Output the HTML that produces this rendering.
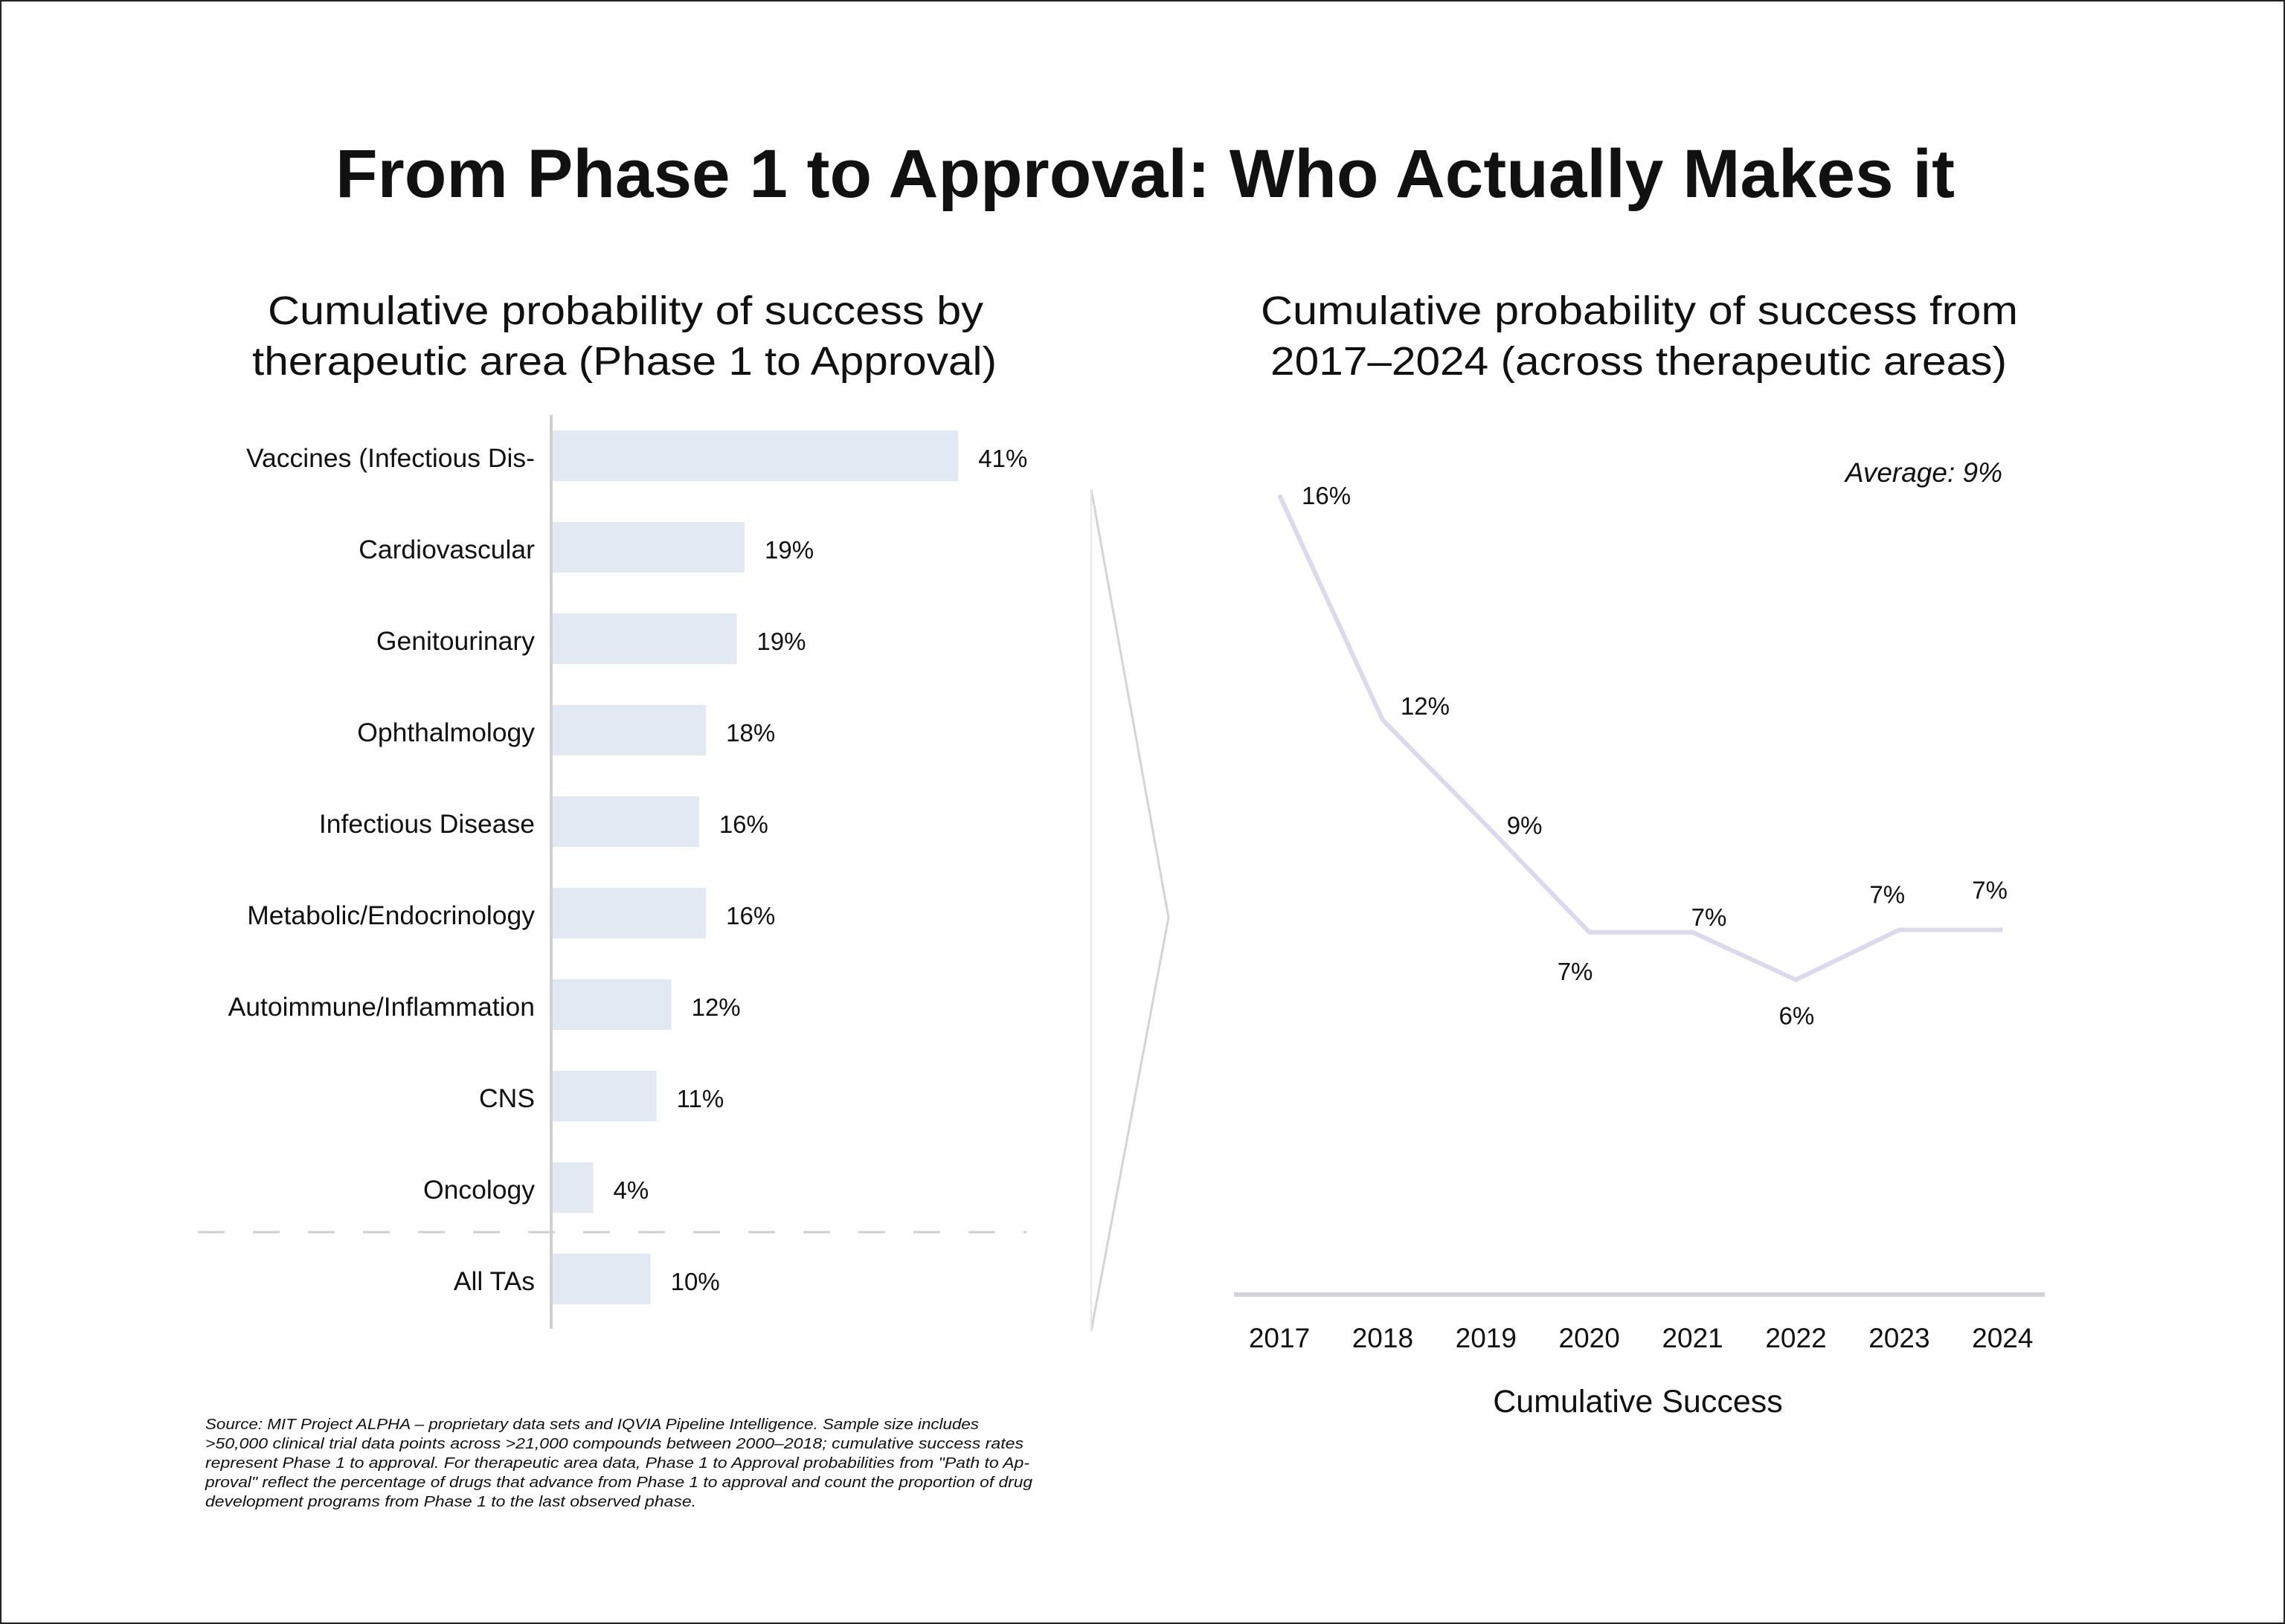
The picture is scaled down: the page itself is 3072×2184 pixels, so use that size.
<!DOCTYPE html>
<html><head><meta charset="utf-8"><style>
html,body{margin:0;padding:0;background:#fff}
svg{display:block}
text{font-family:"Liberation Sans",sans-serif;fill:#111}
</style></head><body>
<svg id="c" width="3072" height="2184" viewBox="0 0 3072 2184" xmlns="http://www.w3.org/2000/svg">
<rect x="1" y="1" width="3070" height="2182" fill="#fff" stroke="#222" stroke-width="2"/>
<text x="451" y="265" font-size="92" font-weight="bold" textLength="2177" lengthAdjust="spacingAndGlyphs">From Phase 1 to Approval: Who Actually Makes it</text>
<g font-size="54">
<text x="360" y="436" textLength="962" lengthAdjust="spacingAndGlyphs">Cumulative probability of success by</text>
<text x="339" y="504" textLength="1001" lengthAdjust="spacingAndGlyphs">therapeutic area (Phase 1 to Approval)</text>
</g>
<g font-size="54">
<text x="1695" y="436" textLength="1018" lengthAdjust="spacingAndGlyphs">Cumulative probability of success from</text>
<text x="1708" y="504" textLength="990" lengthAdjust="spacingAndGlyphs">2017–2024 (across therapeutic areas)</text>
</g>
<g id="bars"></g>
<g id="line"></g>
<polyline points="1467,658 1571,1234 1467,1790" fill="none" stroke="#d4d4d4" stroke-width="3"/>
<line x1="1467" y1="658" x2="1467" y2="1790" stroke="#e6e6e6" stroke-width="2"/>
<g font-size="20" font-style="italic" fill="#222">
<text x="276" y="1922" textLength="1040" lengthAdjust="spacingAndGlyphs">Source: MIT Project ALPHA – proprietary data sets and IQVIA Pipeline Intelligence. Sample size includes</text>
<text x="276" y="1948" textLength="1100" lengthAdjust="spacingAndGlyphs">&gt;50,000 clinical trial data points across &gt;21,000 compounds between 2000–2018; cumulative success rates</text>
<text x="276" y="1974" textLength="1108" lengthAdjust="spacingAndGlyphs">represent Phase 1 to approval. For therapeutic area data, Phase 1 to Approval probabilities from "Path to Ap-</text>
<text x="276" y="2000" textLength="1112" lengthAdjust="spacingAndGlyphs">proval" reflect the percentage of drugs that advance from Phase 1 to approval and count the proportion of drug</text>
<text x="276" y="2026" textLength="660" lengthAdjust="spacingAndGlyphs">development programs from Phase 1 to the last observed phase.</text>
</g>
</svg>
<script>
const categories=["Vaccines (Infectious Dis-","Cardiovascular","Genitourinary","Ophthalmology","Infectious Disease","Metabolic/Endocrinology","Autoimmune/Inflammation","CNS","Oncology","All TAs"];
const barValues=[41,19.4,18.6,15.5,14.8,15.5,12,10.5,4.1,9.9];
const barLabels=["41%","19%","19%","18%","16%","16%","12%","11%","4%","10%"];
const years=["2017","2018","2019","2020","2021","2022","2023","2024"];
const lineValues=[16,11.5,9.4,7.25,7.25,6.3,7.3,7.3];
const lineLabels=["16%","12%","9%","7%","7%","6%","7%","7%"];

const NS="http://www.w3.org/2000/svg";
function mk(t,a,p){const e=document.createElementNS(NS,t);for(const k in a)e.setAttribute(k,a[k]);p.appendChild(e);return e;}
// bar chart
const bg=document.getElementById('bars');
const ax0=743,bxScale=13.3,row0=613,rowStep=123.0,bh=68;
const bx=v=>ax0+v*bxScale;
const by=i=>row0+i*rowStep;
categories.forEach((c,i)=>{
  const r=mk('rect',{x:ax0,y:by(i)-bh/2,width:bx(barValues[i])-ax0,height:bh,fill:'#e3e9f3'},bg);
  
  
  const t=mk('text',{x:719,y:by(i)+15,'font-size':35.5,'text-anchor':'end'},bg);
  t.textContent=c;
  
  
  const v=mk('text',{x:bx(barValues[i])+27,y:by(i)+15,'font-size':33},bg);
  v.textContent=barLabels[i];
  
  
});
const ax=mk('line',{x1:741,y1:558,x2:741,y2:1787,stroke:'#d0d0d0','stroke-width':4},bg);


const dl=mk('line',{x1:266,y1:1657,x2:1380,y2:1657,stroke:'#d0d0d0','stroke-width':3,'stroke-dasharray':'36 38'},bg);


// line chart
const lg=document.getElementById('line');
const lx0=1720,lxStep=138.9,ly0=1741,lyScale=67.2;
const lx=i=>lx0+i*lxStep;
const ly=v=>ly0-v*lyScale;
const offs=[[30,12],[24,-7],[28,12],[-43,64],[-2,-9],[-23,60],[-40,-36],[-41,-42]];
const xa=mk('line',{x1:1659,y1:1741,x2:2749,y2:1741,stroke:'#d3d3d8','stroke-width':6},lg);


const pl=mk('polyline',{points:lineValues.map((v,i)=>lx(i)+','+ly(v)).join(' '),fill:'none',stroke:'#dcd9ec','stroke-width':6,'stroke-linejoin':'miter'},lg);


years.forEach((y,i)=>{
  const t=mk('text',{x:lx(i),y:1812,'font-size':37,'text-anchor':'middle'},lg);
  t.textContent=y;
  
  
  const v=mk('text',{x:lx(i)+offs[i][0],y:ly(lineValues[i])+offs[i][1],'font-size':33},lg);
  v.textContent=lineLabels[i];
  
  
});
const xt=mk('text',{x:2202,y:1899,'font-size':43,'text-anchor':'middle'},lg);
xt.textContent='Cumulative Success';


const av=mk('text',{x:2692,y:648,'font-size':37,'text-anchor':'end','font-style':'italic'},lg);
av.textContent='Average: 9%';


</script>
</body></html>
